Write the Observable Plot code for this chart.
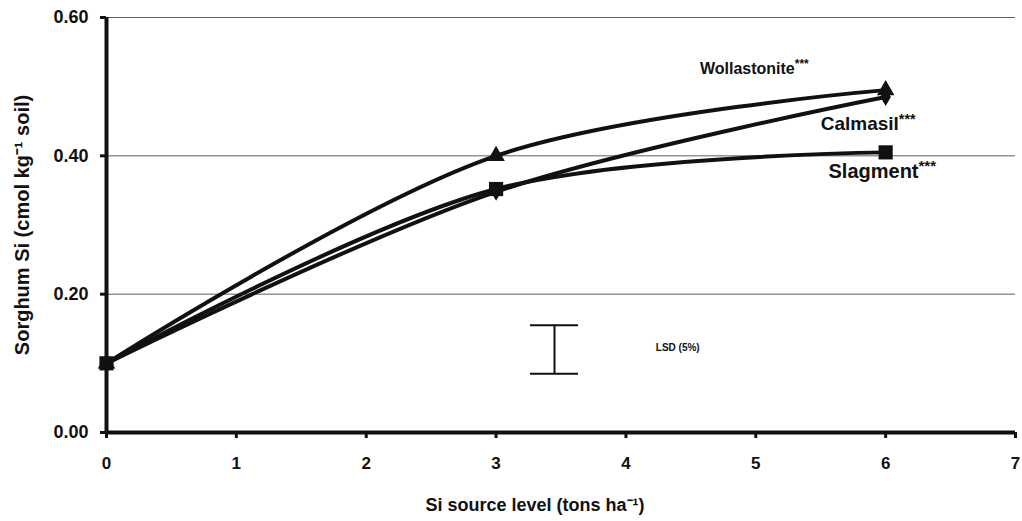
<!DOCTYPE html>
<html>
<head>
<meta charset="utf-8">
<script src="https://cdn.jsdelivr.net/npm/d3@7"></script>
<script src="https://cdn.jsdelivr.net/npm/@observablehq/plot@0.6"></script>
<style>
  html, body { margin: 0; padding: 0; background: #fff; }
  #chart { width: 1022px; height: 521px; }
</style>
</head>
<body>
<div id="chart"></div>
<script>
// ---- data ----
const levels = [0, 3, 6];                       // Si source level (tons ha-1)
const seriesNames = ["Wollastonite", "Calmasil", "Slagment"];
const wollastonite = [0.10, 0.40, 0.495];
const calmasil     = [0.10, 0.348, 0.485];
const slagment     = [0.10, 0.352, 0.405];
const seriesSymbols = ["triangle", "diamond", "square"];
const xTicks = [0, 1, 2, 3, 4, 5, 6, 7];
const yTicks = [0.00, 0.20, 0.40, 0.60];
const lsdX = 3.45, lsdLow = 0.085, lsdHigh = 0.155;   // LSD (5%) bar
const yTitle = "Sorghum Si (cmol kg\u207B\u00B9 soil)";
const xTitle = "Si source level (tons ha\u207B\u00B9)";

// ---- build table ----
const seriesValues = [wollastonite, calmasil, slagment];
const rows = [];
seriesNames.forEach((name, i) => {
  levels.forEach((lv, j) => rows.push({series: name, level: lv, value: seriesValues[i][j]}));
});
const bySeries = name => rows.filter(r => r.series === name);

const font = "'Liberation Sans', Arial, Helvetica, sans-serif";
const markerR = {Wollastonite: 6.5, Calmasil: 5.5, Slagment: 8};

const chart = Plot.plot({
  width: 1022,
  height: 521,
  marginLeft: 106,
  marginRight: 7,
  marginTop: 17,
  marginBottom: 89,
  style: {fontFamily: font, fontWeight: "bold", background: "#fff", color: "#111", overflow: "visible"},
  x: {domain: [0, 7]},
  y: {domain: [0, 0.6]},
  symbol: {domain: seriesNames, range: seriesSymbols},
  marks: [
    Plot.gridY(yTicks.filter(d => d > 0), {stroke: "#5f5f5f", strokeOpacity: 1, strokeWidth: 1}),
    Plot.line(rows, {x: "level", y: "value", z: "series", curve: "catmull-rom", stroke: "#111", strokeWidth: 4}),
    ...seriesNames.map(name =>
      Plot.dot(bySeries(name), {x: "level", y: "value", symbol: "series", fill: "#111", stroke: "none", r: markerR[name]})
    ),
    // LSD bar
    Plot.ruleX([lsdX], {x: d => d, y1: lsdLow, y2: lsdHigh, stroke: "#111", strokeWidth: 2}),
    Plot.ruleY([lsdLow, lsdHigh], {y: d => d, x1: lsdX - 0.185, x2: lsdX + 0.185, stroke: "#111", strokeWidth: 2}),
    // axes
    Plot.ruleX([0], {stroke: "#111", strokeWidth: 4}),
    Plot.ruleY([0], {stroke: "#111", strokeWidth: 4}),
    Plot.axisY({ticks: yTicks, tickFormat: ".2f", tickSize: 6, tickPadding: 12, strokeWidth: 3, fontSize: 18, label: null}),
    Plot.axisX({ticks: xTicks, tickFormat: "d", tickSize: 6, tickPadding: 18, strokeWidth: 3, fontSize: 17, label: null}),
    // axis titles
    Plot.text([yTitle], {frameAnchor: "left", dx: -84, rotate: -90, textAnchor: "middle", lineAnchor: "middle", fontSize: 20, fontWeight: "bold", fill: "#111"}),
    Plot.text([xTitle], {frameAnchor: "bottom", dy: 73, dx: -26, textAnchor: "middle", lineAnchor: "middle", fontSize: 18, fontWeight: "bold", fill: "#111"}),
    // series labels
    Plot.text(["Wollastonite***"], {x: 4.57, y: 0.526, textAnchor: "start", lineAnchor: "middle", fontSize: 16, fontWeight: "bold", fill: "#111"}),
    Plot.text(["Calmasil***"], {x: 5.50, y: 0.446, textAnchor: "start", lineAnchor: "middle", fontSize: 19, fontWeight: "bold", fill: "#111"}),
    Plot.text(["Slagment***"], {x: 5.56, y: 0.377, textAnchor: "start", lineAnchor: "middle", fontSize: 20, fontWeight: "bold", fill: "#111"}),
    Plot.text(["LSD (5%)"], {x: 4.23, y: 0.122, textAnchor: "start", lineAnchor: "middle", fontSize: 10, fontWeight: "bold", fill: "#111"})
  ]
});

// superscript the significance stars
d3.select(chart).selectAll("text").each(function() {
  const t = this.textContent;
  if (t.endsWith("***") && this.children.length === 0) {
    this.textContent = t.slice(0, -3);
    d3.select(this).append("tspan").attr("dy", "-0.45em").attr("font-size", "0.75em").text("***");
  }
});

document.getElementById("chart").appendChild(chart);
</script>
</body>
</html>
